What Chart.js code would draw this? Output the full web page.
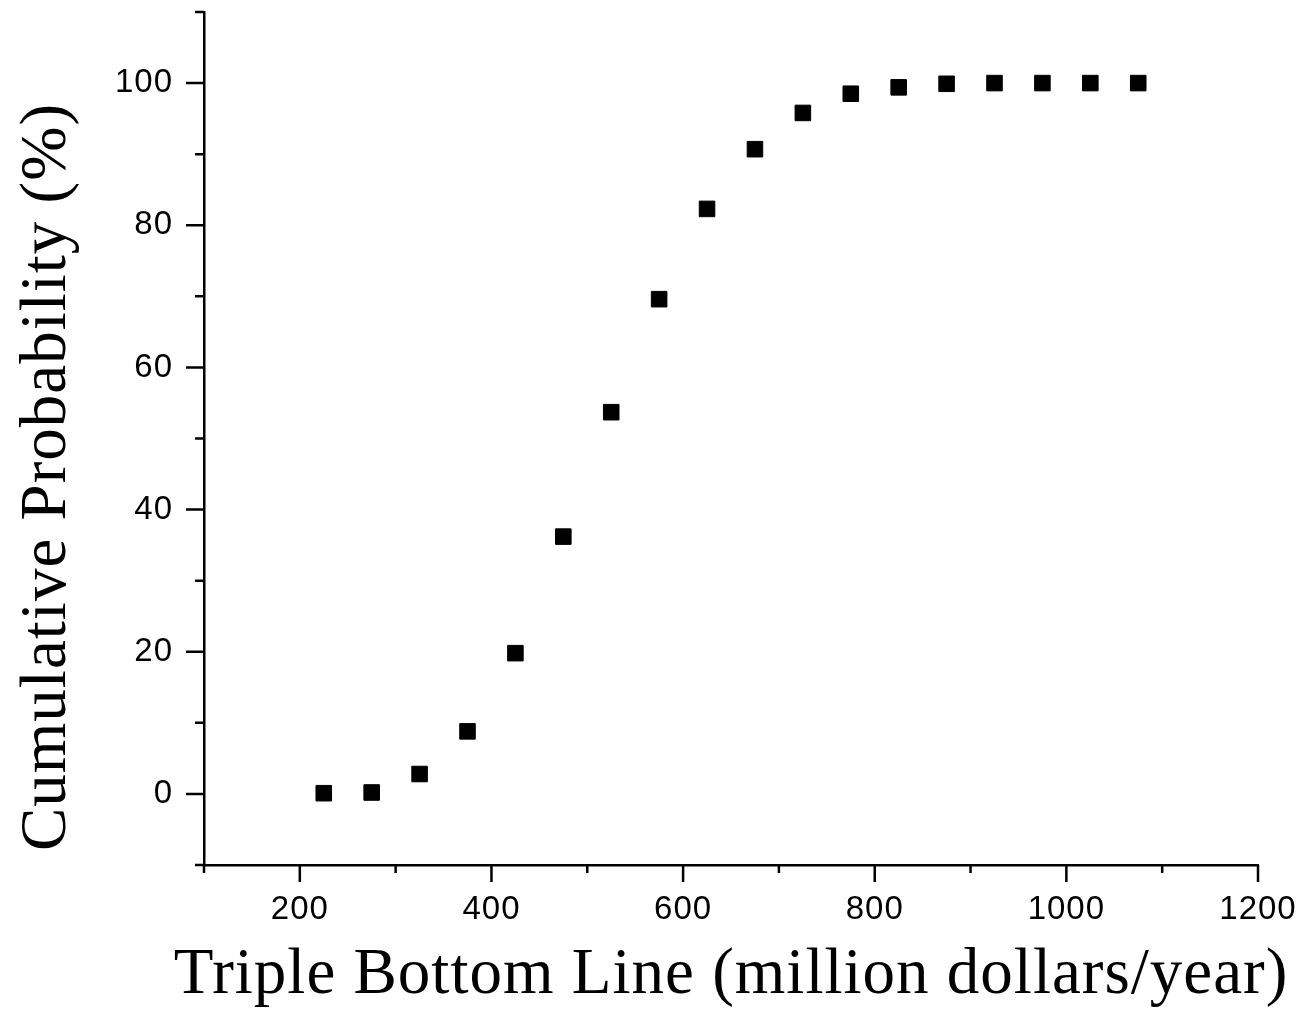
<!DOCTYPE html>
<html>
<head>
<meta charset="utf-8">
<script src="https://cdn.jsdelivr.net/npm/chart.js@4/dist/chart.umd.min.js"></script>
<style>
  html, body { margin: 0; padding: 0; background: #fff; }
  #wrap { width: 1306px; height: 1010px; }
</style>
</head>
<body>
<div id="wrap"><canvas id="cdf"></canvas></div>
<script>
// データ
const tblValues = [225, 275, 325, 375, 425, 475, 525, 575, 625, 675, 725, 775, 825, 875, 925, 975, 1025, 1075];
const cumProb = [0.1, 0.2, 2.8, 8.8, 19.8, 36.2, 53.7, 69.6, 82.3, 90.7, 95.8, 98.5, 99.4, 99.9, 100, 100, 100, 100];

const xLabels = [200, 400, 600, 800, 1000, 1200];
const yLabels = [0, 20, 40, 60, 80, 100];

const xTitle = 'Triple Bottom Line (million dollars/year)';
const yTitle = 'Cumulative Probability (%)';

const tickFont = { family: '"Liberation Sans", Arial, sans-serif', size: 33 };
const titleFont = '65px "Liberation Serif", "Times New Roman", serif';

// 目盛り線と軸タイトルを描く
const axisDecor = {
    id: 'axisDecor',
    beforeDraw(chart) {
        chart.ctx.letterSpacing = '1px';
    },
    afterDraw(chart) {
        const ctx = chart.ctx;
        const xs = chart.scales.x;
        const ys = chart.scales.y;
        const area = chart.chartArea;
        ctx.save();
        ctx.strokeStyle = '#000';
        ctx.lineWidth = 2.5;
        ctx.beginPath();
        for (let v = xs.min; v <= xs.max; v += 100) {
            const px = xs.getPixelForValue(v);
            const len = xLabels.includes(v) ? 17 : 8;
            ctx.moveTo(px, area.bottom);
            ctx.lineTo(px, area.bottom + len);
        }
        for (let v = ys.min; v <= ys.max; v += 10) {
            const py = ys.getPixelForValue(v);
            const len = yLabels.includes(v) ? 18 : 9;
            ctx.moveTo(area.left, py);
            ctx.lineTo(area.left - len, py);
        }
        ctx.stroke();

        ctx.fillStyle = '#000';
        ctx.font = titleFont;
        ctx.letterSpacing = '1px';
        ctx.textAlign = 'center';
        ctx.textBaseline = 'alphabetic';
        ctx.fillText(xTitle, (area.left + area.right) / 2, 993);

        ctx.translate(65, 477);
        ctx.rotate(-Math.PI / 2);
        ctx.fillText(yTitle, 0, 0);
        ctx.restore();
    }
};

const chart = new Chart(document.getElementById('cdf'), {
    type: 'scatter',
    data: {
        datasets: [{
            data: tblValues.map((x, i) => ({ x: x, y: cumProb[i] })),
            pointStyle: 'rect',
            pointRadius: 11,
            pointHoverRadius: 11,
            backgroundColor: '#000',
            borderColor: '#000',
            borderWidth: 1
        }]
    },
    options: {
        responsive: true,
        maintainAspectRatio: false,
        animation: false,
        layout: { padding: { top: 8, right: 48, left: 0, bottom: 0 } },
        plugins: { legend: { display: false }, tooltip: { enabled: false } },
        scales: {
            x: {
                type: 'linear',
                min: 100,
                max: 1200,
                grid: { display: false, drawTicks: false },
                border: { display: true, color: '#000', width: 2.5 },
                ticks: {
                    stepSize: 100,
                    autoSkip: false,
                    maxRotation: 0,
                    padding: 25,
                    color: '#000',
                    font: tickFont,
                    callback: (v) => xLabels.includes(v) ? String(v) : ''
                },
                afterFit(scale) {
                    scale.height = 145;
                    scale.paddingLeft = 0;
                    scale.paddingRight = 0;
                }
            },
            y: {
                min: -10,
                max: 110,
                grid: { display: false, drawTicks: false },
                border: { display: true, color: '#000', width: 2.5 },
                ticks: {
                    stepSize: 10,
                    autoSkip: false,
                    padding: 31,
                    color: '#000',
                    font: tickFont,
                    callback: (v) => yLabels.includes(v) ? String(v) : ''
                },
                afterFit(scale) {
                    scale.width = 204;
                    scale.paddingTop = 0;
                    scale.paddingBottom = 0;
                }
            }
        }
    },
    plugins: [axisDecor]
});
</script>
</body>
</html>
